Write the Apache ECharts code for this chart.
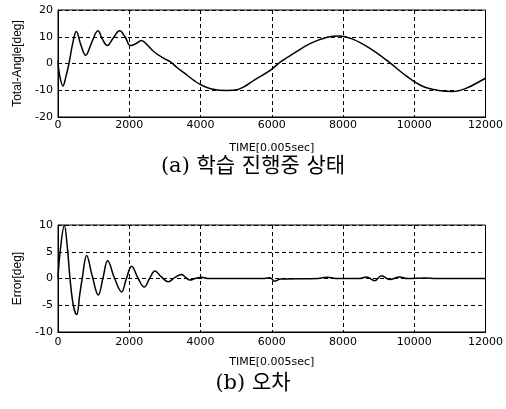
<!DOCTYPE html>
<html>
<head>
<meta charset="utf-8">
<script src="https://cdn.jsdelivr.net/npm/echarts@6/dist/echarts.min.js"></script>
<style>html,body{margin:0;padding:0;background:#fff}#c{width:506px;height:409px}</style>
</head>
<body>
<div id="c"></div>
<script>
// Top chart: Total-Angle[deg] vs TIME
var timeA = [0,40,140,220,308,420,514,640,776,950,1122,1250,1384,1550,1730,1880,2038,2200,2337,2500,2693,2973,3160,3347,3627,3815,4000,4282,4750,5030,5250,5498,5966,6246,6620,7088,7555,7900,8256,8724,9285,9753,10220,10687,11061,11435,11950,12000];
var angleA = [1,-4,-8.4,-5,0,8,12.0,7,3.1,8,12.2,9,6.7,9.5,12.2,10,6.7,7.5,8.6,7,4.4,1.9,0.6,-1.6,-4.4,-6.3,-7.9,-9.4,-10.1,-9.8,-8.5,-6.3,-2.5,0.6,3.8,7.5,9.8,10.3,9.2,5.9,0.6,-4.4,-8.4,-10.1,-10.5,-9.4,-5.9,-5.5];
// Bottom chart: Error[deg] vs TIME
var timeB = [0,60,178,260,337,430,524,610,680,804,960,1131,1260,1393,1590,1786,1920,2066,2250,2421,2570,2721,2900,3094,3280,3469,3600,3703,3850,4030,4200,5800,5950,6087,6250,7300,7550,7800,8450,8659,8891,9078,9311,9592,9800,10342,10600,12000];
var errorB = [0,5,9.9,6,0,-5,-6.75,-3,0,4.3,0.5,-3.1,0,3.3,0,-2.5,0,2.3,0,-1.6,0,1.4,0.3,-0.6,0.2,0.75,0.1,-0.3,0,0.25,0,0,0.15,-0.5,-0.1,0,0.25,0,0,0.3,-0.4,0.5,-0.2,0.3,0,0.1,0,0];
var xTicks = [0,2000,4000,6000,8000,10000,12000];
var xName = 'TIME[0.005sec]';
var yNameA = 'Total-Angle[deg]';
var yNameB = 'Error[deg]';
var captionA = '(a) 학습 진행중 상태';
var captionB = '(b) 오차';

function pairs(xs, ys){ return xs.map(function(x,i){ return [x, ys[i]]; }); }

var font = 'DejaVu Sans, Verdana, sans-serif';
var gridLine = {show:true, lineStyle:{color:'#000', type:[4,3], width:1}};
function xAxis(idx, margin, gap){
  return {gridIndex: idx, type:'value', min:xTicks[0], max:xTicks[xTicks.length-1], interval:xTicks[1]-xTicks[0],
    axisLine:{show:true, onZero:false, lineStyle:{color:'#000'}}, axisTick:{show:false},
    axisLabel:{color:'#000', fontSize:11, fontFamily:font, margin:margin, formatter:function(v){return String(v);}},
    splitLine: gridLine,
    name: xName, nameLocation:'middle', nameGap: gap,
    nameTextStyle:{color:'#000', fontSize:11, fontFamily:font}};
}
function yAxis(idx, min, max, iv, name, gap){
  return {gridIndex: idx, type:'value', min:min, max:max, interval:iv,
    axisLine:{show:true, onZero:false, lineStyle:{color:'#000'}}, axisTick:{show:false},
    axisLabel:{color:'#000', fontSize:11, fontFamily:font, margin:5},
    splitLine: gridLine,
    name: name, nameLocation:'middle', nameGap: gap, nameRotate: 90,
    nameTextStyle:{color:'#000', fontSize:12, fontFamily:'Liberation Sans Narrow, Liberation Sans, Arial, sans-serif'}};
}

var chart = echarts.init(document.getElementById('c'), null, {renderer:'canvas'});
chart.setOption({
  backgroundColor:'#fff',
  animation:false,
  grid:[
    {left:58, top:10, width:428, height:107, show:true, borderColor:'#000', borderWidth:1, backgroundColor:'transparent'},
    {left:58, top:225, width:428, height:107, show:true, borderColor:'#000', borderWidth:1, backgroundColor:'transparent'}
  ],
  xAxis:[xAxis(0, 3, 26), xAxis(1, 5, 25)],
  yAxis:[yAxis(0, -20, 20, 10, yNameA, 27), yAxis(1, -10, 10, 5, yNameB, 31)],
  graphic:[
    {type:'text', left:'center', top:156, style:{text:captionA, fill:'#000', fontSize:21, fontFamily:'DejaVu Serif, Noto Sans CJK KR, serif'}},
    {type:'text', left:'center', top:373, style:{text:captionB, fill:'#000', fontSize:21, fontFamily:'DejaVu Serif, Noto Sans CJK KR, serif'}}
  ],
  series:[
    {type:'line', xAxisIndex:0, yAxisIndex:0, data:pairs(timeA, angleA), smooth:0.4, showSymbol:false, lineStyle:{color:'#000', width:1.5}},
    {type:'line', xAxisIndex:1, yAxisIndex:1, data:pairs(timeB, errorB), smooth:0.4, showSymbol:false, lineStyle:{color:'#000', width:1.5}}
  ]
});
</script>
</body>
</html>
